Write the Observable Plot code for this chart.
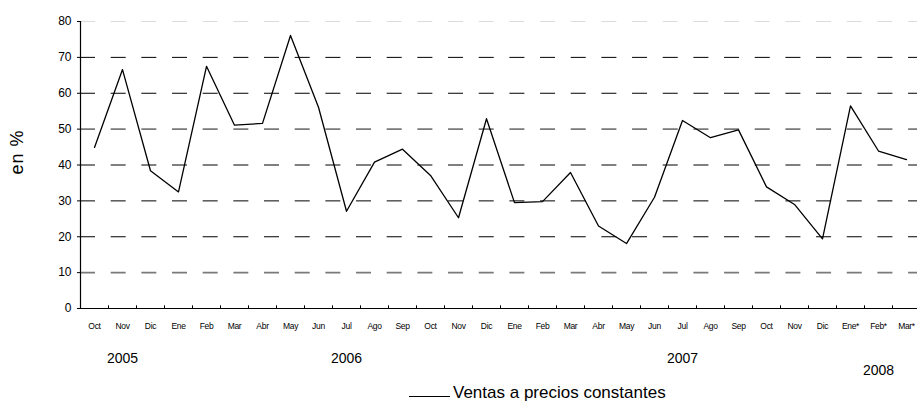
<!DOCTYPE html>
<html>
<head>
<meta charset="utf-8">
<script src="https://cdn.jsdelivr.net/npm/d3@7"></script>
<script src="https://cdn.jsdelivr.net/npm/@observablehq/plot@0.6"></script>
<style>
  html, body { margin: 0; padding: 0; background: #fff; }
  #chart svg { display: block; }
  .months text { letter-spacing: -0.3px; }
  .ylabel text { letter-spacing: 1px; }
  #legend { position: relative; width: 917px; height: 19px; font-family: "Liberation Sans", Arial, sans-serif; }
  #legend .ln { position: absolute; left: 409px; top: 12px; width: 41px; height: 0; border-top: 1.3px solid #000; }
  #legend .tx { position: absolute; left: 453px; top: 0px; font-size: 17px; line-height: 17px; color: #000; white-space: nowrap; }
</style>
</head>
<body>
<div id="chart"></div>
<div id="legend"><span class="ln"></span><span class="tx">Ventas a precios constantes</span></div>
<script>
const months = ["Oct","Nov","Dic",
  "Ene","Feb","Mar","Abr","May","Jun","Jul","Ago","Sep","Oct","Nov","Dic",
  "Ene","Feb","Mar","Abr","May","Jun","Jul","Ago","Sep","Oct","Nov","Dic",
  "Ene*","Feb*","Mar*"];
const values = [44.9, 66.6, 38.4,
  32.5, 67.5, 51.1, 51.6, 76.1, 56.1, 27.1, 40.8, 44.4, 37.1, 25.3, 52.9,
  29.5, 29.8, 37.9, 23.0, 18.1, 31.0, 52.4, 47.6, 49.8, 33.9, 29.0, 19.4,
  56.5, 43.9, 41.5];
const yTicks = [0, 10, 20, 30, 40, 50, 60, 70, 80];
const gridBlack = [20, 30, 40, 60, 70];
const gridGray = [10, 50];
const gridLight = [80];
const years = ["2005", "2006", "2007"];
const yearAt = [1, 9, 21];
const lastYear = ["2008"];
const lastYearAt = [28];

const idx = d3.range(months.length);
const boundaries = d3.range(0.5, months.length - 1, 1);
const font = "'Liberation Sans', Arial, sans-serif";

const chart = Plot.plot({
  width: 917,
  height: 384,
  marginLeft: 80,
  marginRight: 0,
  marginTop: 21,
  marginBottom: 76,
  style: { fontFamily: font, background: "#fff", color: "#000" },
  x: { type: "linear", domain: [-0.5, months.length - 0.5], range: [80, 920], axis: null },
  y: { domain: [0, 80], range: [308, 21], axis: null },
  marks: [
    Plot.ruleY(gridLight, { stroke: "#dcdcdc", strokeWidth: 1, strokeDasharray: "15,15.67" }),
    Plot.ruleY(gridGray, { stroke: "#7a7a7a", strokeWidth: 1.6, strokeDasharray: "15,15.67" }),
    Plot.ruleY(gridBlack, { stroke: "#000", strokeWidth: 1, strokeDasharray: "15,15.67" }),
    Plot.ruleY([0], { stroke: "#000", strokeWidth: 1.2 }),
    Plot.ruleX([-0.5], { stroke: "#000", strokeWidth: 1.2 }),
    Plot.ruleX(boundaries, { x: d => d, y1: 0, y2: 0.75, stroke: "#000", strokeWidth: 1 }),
    Plot.axisY({ ticks: yTicks, tickSize: 3, tickPadding: 6, fontSize: 12 }),
    Plot.text(idx, { x: d => d, y: 0, text: i => months[i], dy: 18, fontSize: 8.5, fill: "#000", className: "months" }),
    Plot.text(years, { x: (d, i) => yearAt[i], y: 0, text: d => d, dy: 50, fontSize: 14, fill: "#000" }),
    Plot.text(lastYear, { x: (d, i) => lastYearAt[i], y: 0, text: d => d, dy: 62, fontSize: 14, fill: "#000" }),
    Plot.text(["en %"], { frameAnchor: "left", textAnchor: "middle", rotate: -90, dx: -63, dy: -13, fontSize: 18, fill: "#000", className: "ylabel" }),
    Plot.line(values, { x: (d, i) => i, y: d => d, stroke: "#000", strokeWidth: 1.3 })
  ]
});
document.getElementById("chart").appendChild(chart);
</script>
</body>
</html>
